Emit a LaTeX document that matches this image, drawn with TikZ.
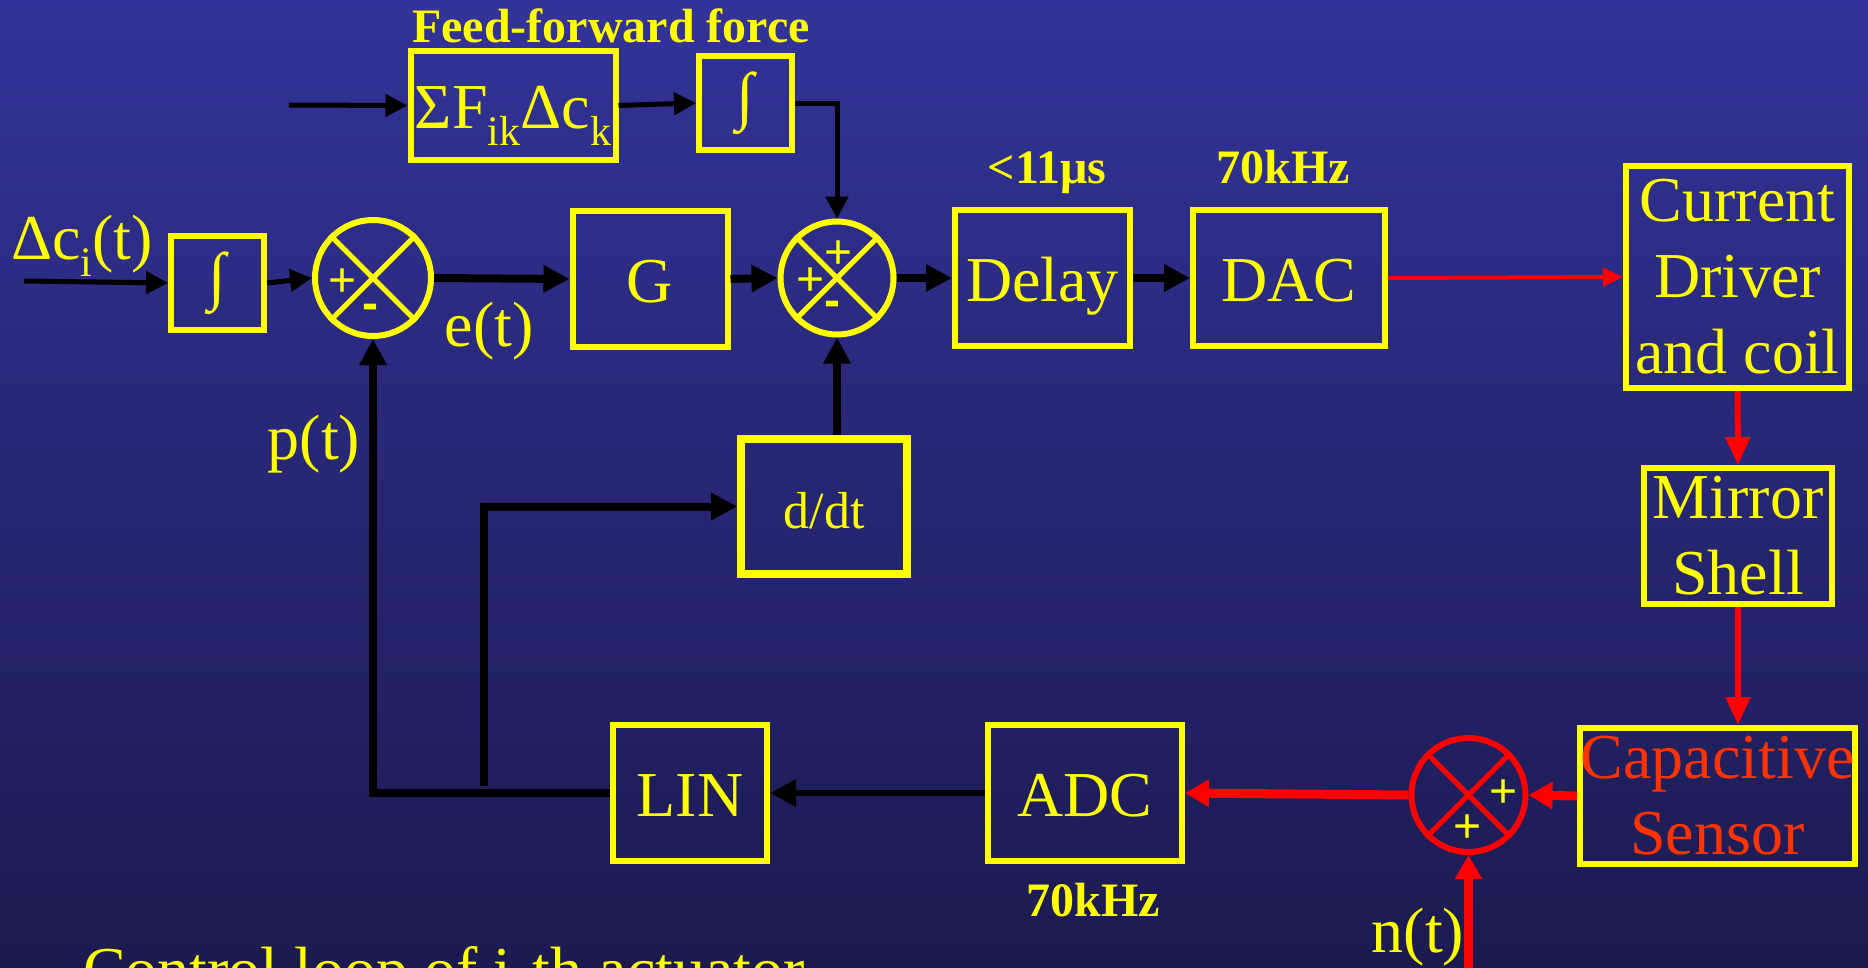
\documentclass[tikz,border=0pt]{standalone}
\usepackage{xcolor}
\usepackage{fontspec}
\setmainfont{Liberation Serif}
\setsansfont{Liberation Sans}
\usepackage{tikz}
\usetikzlibrary{arrows.meta,calc,positioning}
\definecolor{loopbgtop}{HTML}{333399}
\definecolor{loopbgbottom}{HTML}{1B1A50}
\definecolor{loopyellow}{HTML}{FFFF00}
\definecolor{loopred}{HTML}{FF0000}
\definecolor{looporange}{HTML}{FF3300}
\def\linecolor{loopyellow}
\def\signalcolor{loopred}
\newlength{\LoopFigureUnit}
\setlength{\LoopFigureUnit}{1pt}
\newcommand{\LoopBlockFont}{\fontsize{64pt}{76pt}\selectfont}
\newcommand{\LoopSmallFont}{\fontsize{52pt}{60pt}\selectfont}
\newcommand{\LoopNoteFont}{\fontsize{48pt}{54pt}\selectfont\bfseries}
\newcommand{\LoopSignFont}{\fontsize{48pt}{52pt}\selectfont\sffamily}
\newcommand{\LoopSub}[1]{\raisebox{-17pt}{\fontsize{42pt}{44pt}\selectfont #1}}

\begin{document}
\begin{tikzpicture}[x=\LoopFigureUnit,y=-\LoopFigureUnit]
    \tikzset{
        loop block/.style={draw=\linecolor, line width=6pt, inner sep=0pt,
            text=loopyellow, font=\LoopBlockFont, align=center},
        loop word/.style={loop block, text height=46pt, text depth=0pt},
        loop sum/.style={draw=\linecolor, line width=6pt, circle, inner sep=0pt},
        loop cross/.style={draw=\linecolor, line width=5pt},
        loop sign/.style={text=loopyellow, font=\LoopSignFont, inner sep=0pt},
        loop label/.style={text=loopyellow, font=\LoopBlockFont, inner sep=0pt},
        loop note/.style={text=loopyellow, font=\LoopNoteFont, inner sep=0pt},
        loop flow/.style={-{Triangle[length=26pt,width=26pt]}, line width=8pt, draw=black},
        loop thin flow/.style={-{Triangle[length=22pt,width=22pt]}, line width=5pt, draw=black},
        loop red thin/.style={-{Triangle[length=20pt,width=18pt]}, line width=4pt, draw=\signalcolor},
        loop red flow/.style={-{Triangle[length=28pt,width=24pt]}, line width=6pt, draw=\signalcolor},
        loop red thick/.style={-{Triangle[length=24pt,width=26pt]}, line width=9pt, draw=\signalcolor}
    }
    \useasboundingbox (0,0) rectangle (1868,967);
    \clip (0,0) rectangle (1868,967);
    \shade[top color=loopbgtop, bottom color=loopbgbottom] (0,0) rectangle (1868,967);

    % feed-forward branch
    \node[loop note, anchor=base] (loop-ff-title) at (611,42) {Feed-forward force};
    \node[loop word, minimum width=205, minimum height=109] (loop-ffsum) at (513,105.5)
        {ΣF\LoopSub{ik}Δc\LoopSub{k}};
    \node[loop block, minimum width=93, minimum height=94] (loop-ffint) at (745.5,103) {∫};

    % forward path
    \node[loop label, anchor=base] (loop-dc-label) at (82,259) {Δc\LoopSub{i}(t)};
    \node[loop block, minimum width=93, minimum height=94] (loop-int1) at (217.5,283) {∫};
    \node[loop sum, minimum size=116] (loop-sum1) at (373,278) {};
    \node[loop label, anchor=base] (loop-e-label) at (489,346) {e(t)};
    \node[loop word, minimum width=155, minimum height=136] (loop-g) at (650,279) {G};
    \node[loop sum, minimum size=113] (loop-sum2) at (837,278) {};
    \node[loop note, anchor=base] (loop-delay-note) at (1047,183) {<11μs};
    \node[loop word, minimum width=175, minimum height=136] (loop-delay) at (1042.5,278) {Delay};
    \node[loop note, anchor=base] (loop-dac-note) at (1283,183) {70kHz};
    \node[loop word, minimum width=192, minimum height=136] (loop-dac) at (1289,278) {DAC};
    \node[loop block, minimum width=223, minimum height=222] (loop-driver) at (1737.5,277)
        {Current\\Driver\\and coil};
    \node[loop block, minimum width=188, minimum height=136] (loop-mirror) at (1738,536)
        {Mirror\\Shell};
    \node[loop block, minimum width=275, minimum height=136, text=looporange] (loop-cap)
        at (1717.5,796) {Capacitive\\Sensor};

    % feedback path
    \node[loop sum, draw=\signalcolor, minimum size=114] (loop-sum3) at (1468.5,795) {};
    \node[loop label, anchor=base] (loop-n-label) at (1418,952) {n(t)};
    \node[loop word, minimum width=194, minimum height=136] (loop-adc) at (1085,793) {ADC};
    \node[loop note, anchor=base] (loop-adc-note) at (1093,916) {70kHz};
    \node[loop word, minimum width=154, minimum height=136] (loop-lin) at (690,793) {LIN};
    \node[loop block, line width=8pt, minimum width=166, minimum height=135,
        font=\LoopSmallFont, text height=43pt, text depth=0pt] (loop-ddt) at (824,506.5) {d/dt};
    \node[loop label, anchor=base] (loop-p-label) at (314,459) {p(t)};

    % crosses and signs of the summing points
    \foreach \sum in {sum1,sum2} {
        \draw[loop cross] (loop-\sum.45) -- (loop-\sum.225) (loop-\sum.135) -- (loop-\sum.-45);
    }
    \draw[loop cross, draw=\signalcolor] (loop-sum3.45) -- (loop-sum3.225)
        (loop-sum3.135) -- (loop-sum3.-45);
    \node[loop sign] (loop-sum1-plus) at ($(loop-sum1.center)+(-30,5)$) {+};
    \node[loop sign, font=\LoopSignFont\bfseries] (loop-sum1-minus) at ($(loop-sum1.center)+(-3,34)$) {-};
    \node[loop sign] (loop-sum2-plus-top) at ($(loop-sum2.center)+(2,-23)$) {+};
    \node[loop sign] (loop-sum2-plus-left) at ($(loop-sum2.center)+(-26,4)$) {+};
    \node[loop sign, font=\LoopSignFont\bfseries] (loop-sum2-minus) at ($(loop-sum2.center)+(-5,31)$) {-};
    \node[loop sign] (loop-sum3-plus-right) at ($(loop-sum3.center)+(35,-1)$) {+};
    \node[loop sign] (loop-sum3-plus-bottom) at ($(loop-sum3.center)+(-1,34)$) {+};

    % caption, cut by the lower edge
    \node[loop label, anchor=base west] (loop-caption) at (83,991) {Control loop of i-th actuator};

    % connectors
    \coordinate (loop-ff-in) at (289,105);
    \coordinate (loop-dc-in) at (24,281);
    \coordinate (loop-n-in) at (1468.5,975);
    \coordinate (loop-tap) at (484,786);
    \draw[loop thin flow] (loop-ff-in) -- (loop-ffsum.west);
    \draw[loop thin flow] (loop-ffsum.east) -- (loop-ffint.west);
    \draw[loop thin flow] (loop-ffint.east) -| (loop-sum2.north);
    \draw[loop thin flow] (loop-dc-in) -- (loop-int1.west);
    \draw[loop thin flow] (loop-int1.east) -- (loop-sum1.west);
    \draw[loop flow] (loop-sum1.east) -- (loop-g.west);
    \draw[loop flow] (loop-g.east) -- (loop-sum2.west);
    \draw[loop flow] (loop-sum2.east) -- (loop-delay.west);
    \draw[loop flow] (loop-delay.east) -- (loop-dac.west);
    \draw[loop red thin] (loop-dac.east) -- (loop-driver.west);
    \draw[loop red flow] (loop-driver.south) -- (loop-mirror.north);
    \draw[loop red flow] (loop-mirror.south) -- (loop-mirror.south |- loop-cap.north);
    \draw[loop red thick] (loop-cap.west) -- (loop-sum3.east);
    \draw[loop red thick] (loop-n-in) -- (loop-sum3.south);
    \draw[loop red thick] (loop-sum3.west) -- (loop-adc.east);
    \draw[loop flow, line width=6pt] (loop-adc.west) -- (loop-lin.east);
    \draw[loop flow] (loop-lin.west) -| (loop-sum1.south);
    \draw[loop flow] (loop-tap) |- (loop-ddt.west);
    \draw[loop flow] (loop-sum2.south |- loop-ddt.north) -- (loop-sum2.south);
\end{tikzpicture}
\end{document}
